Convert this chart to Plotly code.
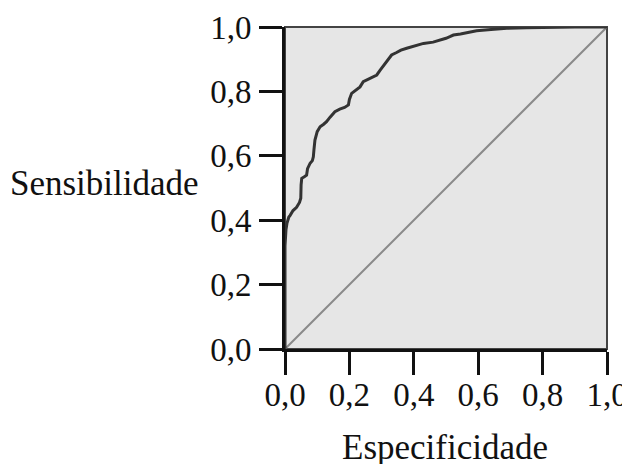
import plotly.graph_objects as go

# ROC curve (1 - specificity on x, sensitivity on y)
fpr = [0.0, 0.0, 0.003, 0.006, 0.012, 0.016, 0.025, 0.036, 0.045, 0.049, 0.05, 0.052,
       0.06, 0.067, 0.07, 0.078, 0.085, 0.088, 0.09, 0.093, 0.1, 0.109, 0.12, 0.129,
       0.14, 0.155, 0.17, 0.185, 0.197, 0.2, 0.207, 0.22, 0.233, 0.243, 0.26, 0.275,
       0.285, 0.295, 0.311, 0.321, 0.331, 0.345, 0.36, 0.378, 0.4, 0.43, 0.46, 0.487,
       0.5, 0.512, 0.523, 0.545, 0.57, 0.595, 0.64, 0.689, 0.75, 0.83, 0.9, 1.0]
tpr = [0.0, 0.32, 0.37, 0.39, 0.41, 0.415, 0.43, 0.44, 0.455, 0.468, 0.51, 0.53,
       0.535, 0.54, 0.56, 0.577, 0.585, 0.597, 0.62, 0.649, 0.675, 0.69, 0.698, 0.706,
       0.72, 0.737, 0.745, 0.75, 0.758, 0.775, 0.794, 0.805, 0.814, 0.83, 0.838, 0.845,
       0.851, 0.865, 0.887, 0.9, 0.913, 0.92, 0.928, 0.934, 0.94, 0.949, 0.953, 0.96,
       0.965, 0.97, 0.975, 0.978, 0.982, 0.988, 0.992, 0.996, 0.998, 1.0, 1.0, 1.0]

ref_x = [0.0, 1.0]
ref_y = [0.0, 1.0]

tick_vals = [0.0, 0.2, 0.4, 0.6, 0.8, 1.0]
tick_text = ["0,0", "0,2", "0,4", "0,6", "0,8", "1,0"]

x_title = "Especificidade"
y_title = "Sensibilidade"

FONT = "Liberation Serif, Times New Roman, serif"

fig = go.Figure()
fig.add_trace(go.Scatter(x=ref_x, y=ref_y, mode="lines",
                         line=dict(color="#8a8a8a", width=2), hoverinfo="skip"))
fig.add_trace(go.Scatter(x=fpr, y=tpr, mode="lines",
                         line=dict(color="#333333", width=3)))

axis_common = dict(
    range=[0, 1], tickvals=tick_vals, ticktext=tick_text, automargin=False,
    showgrid=False, zeroline=False, showline=True, linecolor="#111111", linewidth=3,
    ticks="outside", ticklen=23, tickwidth=3, tickcolor="#111111",
    tickfont=dict(family=FONT, size=33, color="#111111"),
)

fig.update_layout(
    width=630, height=464,
    margin=dict(l=277, r=31, t=19, b=123, autoexpand=False),
    paper_bgcolor="white", plot_bgcolor="#e6e6e6",
    showlegend=False,
    xaxis=dict(**axis_common, ticklabelstandoff=-9),
    yaxis=dict(**axis_common, ticklabelstandoff=1),
    shapes=[dict(type="rect", xref="paper", yref="paper", x0=0, y0=0, x1=1, y1=1,
                 line=dict(color="#444444", width=2), layer="below")],
    annotations=[
        dict(text=y_title, xref="paper", yref="paper", x=-0.26, y=0.515,
             xanchor="right", yanchor="middle", showarrow=False,
             font=dict(family=FONT, size=35, color="#111111")),
        dict(text=x_title, xref="paper", yref="paper", x=0.497, y=-0.305,
             xanchor="center", yanchor="middle", showarrow=False,
             font=dict(family=FONT, size=35, color="#111111")),
    ],
)

fig.write_html("out.html")
